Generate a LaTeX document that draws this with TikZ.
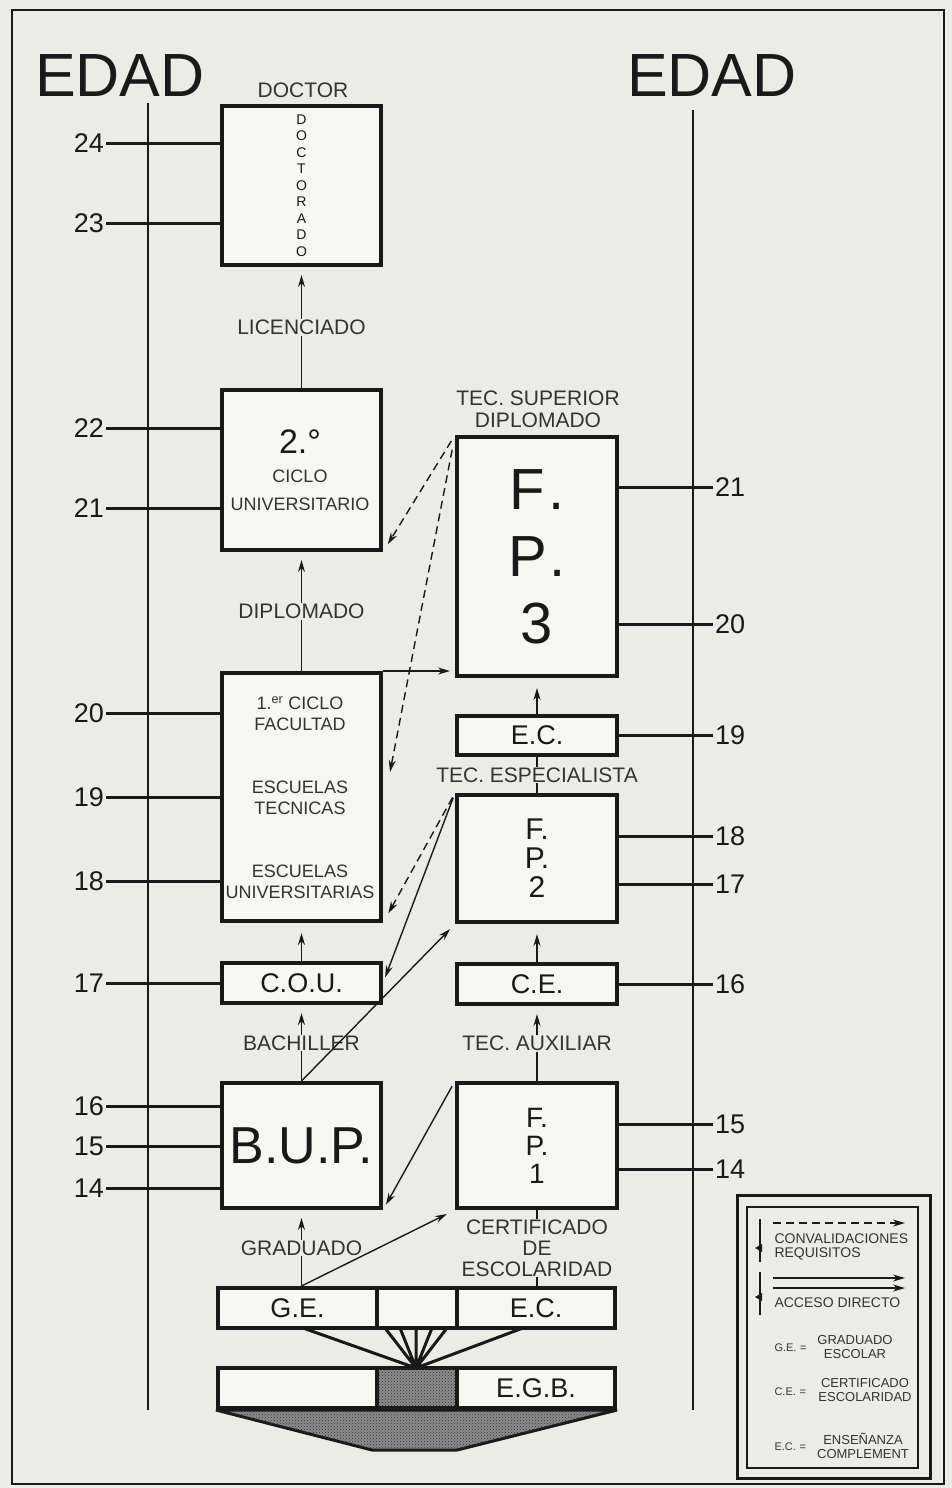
\documentclass[tikz,border=0pt]{standalone}
\usepackage{fontspec}
\setmainfont{Liberation Sans}
\usepackage{tikz}
\usetikzlibrary{arrows.meta,patterns,calc}
\definecolor{pagebg}{RGB}{236,236,231}
\definecolor{boxbg}{RGB}{246,246,243}
\colorlet{ink}{black!90}
\colorlet{labelink}{black!80}
\newcommand{\fsz}[2]{\fontsize{#1}{#2}\selectfont}

\begin{document}
\begin{tikzpicture}[x=1pt,y=-1pt,>={Stealth[length=12pt,width=7pt]},
  box/.style={draw=ink,line width=4pt,fill=boxbg,inner sep=0pt,text=ink,align=center},
  grain/.style={fill=black!45,postaction={pattern=crosshatch dots,pattern color=black!80}},
  tag/.style={fill=pagebg,inner sep=1pt,text=labelink,font=\fsz{21}{21},align=center},
  lbl/.style={text=labelink,align=center},
  age/.style={text=ink,inner sep=2pt,font=\fsz{27}{27}},
  agetick/.style={line width=3pt,draw=ink},
  link/.style={->,line width=1.4pt,draw=ink},
  req/.style={link,dash pattern=on 8pt off 5pt},
  legtext/.style={text=labelink,font=\fsz{14}{14},align=center}]
\fill[pagebg] (0,0) rectangle (952,1488);
\useasboundingbox (0,0) rectangle (952,1488);
\draw[line width=2pt,ink] (12,10) rectangle (944,1484);

\node[text=ink,font=\fsz{61}{61}] (edadl) at (120,76) {EDAD};
\node[text=ink,font=\fsz{61}{61}] (edadr) at (712,76) {EDAD};
\draw[line width=2.5pt,ink] (148,103) -- (148,1410);
\draw[line width=2.5pt,ink] (693,110) -- (693,1410);

% university column
\node[box,minimum width=159pt,minimum height=159pt,font=\fsz{14}{16.5}] (doc) at (301.5,185.5) {D\\O\\C\\T\\O\\R\\A\\D\\O};
\node[lbl,font=\fsz{21}{21}] (doctor) at (303,90) {DOCTOR};
\node[box,minimum width=159pt,minimum height=160pt] (ciclo2) at (301.5,470) {};
\node[text=ink,font=\fsz{34}{34}] (c2num) at (300,442) {2.°};
\node[lbl,font=\fsz{18}{28}] (c2txt) at (300,490) {CICLO\\UNIVERSITARIO};
\node[box,minimum width=159pt,minimum height=248pt] (ciclo1) at (301.5,797) {};
\node[lbl,font=\fsz{18}{21}] (c1fac) at (300,714) {1.\textsuperscript{er} CICLO\\FACULTAD};
\node[lbl,font=\fsz{18}{21}] (c1tec) at (300,798) {ESCUELAS\\TECNICAS};
\node[lbl,font=\fsz{18}{21}] (c1uni) at (300,882) {ESCUELAS\\UNIVERSITARIAS};
\node[box,minimum width=159pt,minimum height=40pt,font=\fsz{27}{27}] (cou) at (301.5,983) {C.O.U.};
\node[box,minimum width=159pt,minimum height=125pt,font=\fsz{52}{52}] (bup) at (301.5,1145.5) {B.U.P.};

% vocational column
\node[box,minimum width=160pt,minimum height=239pt,font=\fsz{58}{67}] (fp3) at (537,556.5) {F\hspace{3pt}.\\P\hspace{3pt}.\\3};
\node[lbl,font=\fsz{21}{22}] (tecsup) at (538,409) {TEC. SUPERIOR\\DIPLOMADO};
\node[box,minimum width=160pt,minimum height=39pt,font=\fsz{27}{27}] (ec) at (537,735.5) {E.C.};
\node[box,minimum width=160pt,minimum height=127pt,font=\fsz{30}{29}] (fp2) at (537,858.5) {F.\\P.\\2};
\node[box,minimum width=160pt,minimum height=40pt,font=\fsz{27}{27}] (ce) at (537,984) {C.E.};
\node[box,minimum width=160pt,minimum height=125pt,font=\fsz{28}{28}] (fp1) at (537,1145.5) {F.\\P.\\1};

% E.G.B. rows
\node[box,minimum width=159pt,minimum height=40pt,font=\fsz{27}{27}] (ge) at (297.5,1308) {G.E.};
\node[box,minimum width=80pt,minimum height=40pt] (gmid) at (417,1308) {};
\node[box,minimum width=158pt,minimum height=40pt,font=\fsz{27}{27}] (gec) at (536,1308) {E.C.};
\node[box,minimum width=159pt,minimum height=40pt] (e1) at (297.5,1388) {};
\node[box,grain,minimum width=80pt,minimum height=40pt] (emid) at (417,1388) {};
\node[box,minimum width=158pt,minimum height=40pt,font=\fsz{27}{27}] (egb) at (536,1388) {E.G.B.};
\draw[line width=3pt,ink,grain,line join=bevel] (e1.south west) -- (egb.south east) -- (457,1450) -- (372,1450) -- cycle;
\coordinate (apex) at (416,1368);
\draw[line width=3pt,ink] (apex) -- (303,1328) (apex) -- (385,1328) (apex) -- (400,1328) (apex) -- (416,1328)
  (apex) -- (432,1328) (apex) -- (447,1328) (apex) -- (523,1328);

% ages, left
\node[age,anchor=east] (l24) at (106,143) {24}; \draw[agetick] (l24.east) -- (l24.east -| doc.west);
\node[age,anchor=east] (l23) at (106,223) {23}; \draw[agetick] (l23.east) -- (l23.east -| doc.west);
\node[age,anchor=east] (l22) at (106,428) {22}; \draw[agetick] (l22.east) -- (l22.east -| ciclo2.west);
\node[age,anchor=east] (l21) at (106,508) {21}; \draw[agetick] (l21.east) -- (l21.east -| ciclo2.west);
\node[age,anchor=east] (l20) at (106,713) {20}; \draw[agetick] (l20.east) -- (l20.east -| ciclo1.west);
\node[age,anchor=east] (l19) at (106,797) {19}; \draw[agetick] (l19.east) -- (l19.east -| ciclo1.west);
\node[age,anchor=east] (l18) at (106,881) {18}; \draw[agetick] (l18.east) -- (l18.east -| ciclo1.west);
\node[age,anchor=east] (l17) at (106,983) {17}; \draw[agetick] (l17.east) -- (l17.east -| cou.west);
\node[age,anchor=east] (l16) at (106,1106) {16}; \draw[agetick] (l16.east) -- (l16.east -| bup.west);
\node[age,anchor=east] (l15) at (106,1146) {15}; \draw[agetick] (l15.east) -- (l15.east -| bup.west);
\node[age,anchor=east] (l14) at (106,1188) {14}; \draw[agetick] (l14.east) -- (l14.east -| bup.west);

% ages, right
\node[age,anchor=west] (r21) at (713,487) {21}; \draw[agetick] (r21.west) -- (r21.west -| fp3.east);
\node[age,anchor=west] (r20) at (713,624) {20}; \draw[agetick] (r20.west) -- (r20.west -| fp3.east);
\node[age,anchor=west] (r19) at (713,735) {19}; \draw[agetick] (r19.west) -- (r19.west -| ec.east);
\node[age,anchor=west] (r18) at (713,836) {18}; \draw[agetick] (r18.west) -- (r18.west -| fp2.east);
\node[age,anchor=west] (r17) at (713,884) {17}; \draw[agetick] (r17.west) -- (r17.west -| fp2.east);
\node[age,anchor=west] (r16) at (713,984) {16}; \draw[agetick] (r16.west) -- (r16.west -| ce.east);
\node[age,anchor=west] (r15) at (713,1124) {15}; \draw[agetick] (r15.west) -- (r15.west -| fp1.east);
\node[age,anchor=west] (r14) at (713,1169) {14}; \draw[agetick] (r14.west) -- (r14.west -| fp1.east);

% vertical steps
\coordinate (gtop) at (bup.south |- ge.north);
\draw[link,shorten >=8pt] (ciclo2.north) -- (doc.south) node[tag,midway] (lic) {LICENCIADO};
\draw[link,shorten >=8pt] (ciclo1.north) -- (ciclo2.south) node[tag,midway] (dip) {DIPLOMADO};
\draw[link,shorten >=10pt] (cou.north) -- (ciclo1.south);
\draw[link,shorten >=8pt] (bup.north) -- (cou.south) node[tag,midway] (bach) {BACHILLER};
\draw[link,shorten >=8pt] (gtop) -- (bup.south) node[tag,midway] (grad) {GRADUADO};
\draw[link,shorten >=10pt] (ec.north) -- (fp3.south);
\draw[line width=1.4pt,ink] (fp2.north) -- (ec.south) node[tag,midway] (tesp) {TEC. ESPECIALISTA};
\draw[link,shorten >=10pt] (ce.north) -- (fp2.south);
\draw[link,shorten >=8pt] (fp1.north) -- (ce.south) node[tag,midway] (taux) {TEC. AUXILIAR};
\draw[line width=1.4pt,ink] (fp1.south |- gec.north) -- (fp1.south) node[tag,midway] (cert) {CERTIFICADO\\DE\\ESCOLARIDAD};

% crossings between columns
\draw[req,shorten <=7pt,shorten >=9pt] (fp3.north west) -- (ciclo2.south east);
\draw[req,shorten <=15pt] (fp3.north west) -- ([xshift=7pt,yshift=25pt]ciclo1.east);
\draw[link,shorten >=5pt] (ciclo1.north east) -- (fp3.west |- ciclo1.north east);
\draw[req,shorten <=5pt,shorten >=11pt] (fp2.north west) -- (ciclo1.south east);
\draw[link,shorten <=5pt,shorten >=6pt] (fp2.north west) -- (cou.east);
\draw[link,shorten >=7pt] (bup.north) -- (fp2.south west);
\draw[link,shorten <=6pt,shorten >=6pt] (fp1.north west) -- (bup.south east);
\draw[link,shorten >=9pt] (gtop) -- (fp1.south west);

% legend
\draw[line width=3pt,ink] (737,1195) rectangle (930,1478);
\draw[line width=1.2pt,ink] (747,1207) rectangle (918,1468);
\coordinate (k1a) at (773,1223); \coordinate (k1b) at (905,1223);
\coordinate (k2a) at (773,1278); \coordinate (k2b) at (905,1278);
\coordinate (k3a) at (773,1288); \coordinate (k3b) at (905,1288);
\draw[req,line width=1.2pt] (k1a) -- (k1b);
\draw[link,line width=1.2pt] (k2a) -- (k2b);
\draw[link,line width=1.2pt] (k3a) -- (k3b);
\draw[line width=1.4pt,ink] (760,1219) -- (760,1262) (760,1272) -- (760,1315);
\fill[ink] (755,1248) -- (762,1244) -- (762,1252) -- cycle;
\fill[ink] (755,1297) -- (762,1293) -- (762,1301) -- cycle;
\node[legtext,anchor=west,align=left] (kconv) at (771,1247) {CONVALIDACIONES\\REQUISITOS};
\node[legtext,anchor=west] (kacc) at (771,1303) {ACCESO DIRECTO};
\node[legtext,anchor=west,font=\fsz{11}{11}] (kge) at (771,1348) {G.E.\,\,=};
\node[legtext,font=\fsz{13}{14}] (kgev) at (855,1347) {GRADUADO\\ESCOLAR};
\node[legtext,anchor=west,font=\fsz{11}{11}] (kce) at (771,1392) {C.E.\,\,=};
\node[legtext,font=\fsz{13}{14}] (kcev) at (865,1390) {CERTIFICADO\\ESCOLARIDAD};
\node[legtext,anchor=west,font=\fsz{11}{11}] (kec) at (771,1447) {E.C.\,\,=};
\node[legtext,font=\fsz{13}{14}] (kecv) at (863,1446) {ENSEÑANZA\\COMPLEMENT};
\end{tikzpicture}
\end{document}
